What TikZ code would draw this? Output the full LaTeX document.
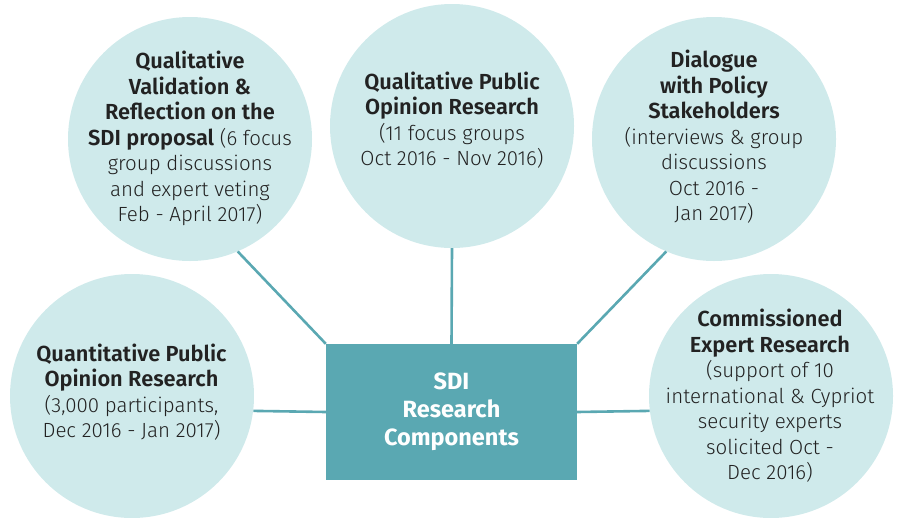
\documentclass[tikz,border=0pt]{standalone}
\usepackage{fontspec}
\setmainfont{Fira Sans}
\newfontfamily\lightfont{Fira Sans Light}
\newfontfamily\headfont{Fira Sans SemiBold}
\newfontfamily\hubfont{Fira Sans Bold}
\definecolor{bubblefill}{HTML}{CFEAEB}
\definecolor{tealbox}{HTML}{5AA8B2}
\definecolor{inktext}{HTML}{222222}
\newcommand{\hd}[1]{{\headfont\fontsize{21.8}{25.5}\selectfont #1}}
\begin{document}
\begin{tikzpicture}[x=1pt, y=-1pt, line join=round, line cap=round,
	bubble/.style={circle, fill=bubblefill, minimum size=244pt, inner sep=0pt},
	bubbletext/.style={align=center, text=inktext, font=\lightfont\fontsize{20.5}{25.5}\selectfont},
	hub/.style={fill=tealbox, minimum width=251pt, minimum height=136pt, inner sep=0pt,
		text=white, align=center, font=\hubfont\fontsize{23.5}{28}\selectfont},
	link/.style={draw=tealbox, line width=2.6pt, line cap=butt}]
	\useasboundingbox (0,0) rectangle (897,517);
	% bubbles
	\node[bubble] (qv) at (190,139) {};
	\node[bubble] (qp) at (452,126) {};
	\node[bubble] (dp) at (714,139) {};
	\node[bubble] (ql) at (132,396) {};
	\node[bubble] (ce) at (771,396) {};
	% centre box
	\node[hub] (sdi) at (451.5,412) {SDI\\Research\\Components};
	% texts
	\node[bubbletext] (qvt) at (190,138.5) {\hd{Qualitative}\\\hd{Validation \&}\\\hd{Reflection on the}\\
		\hd{SDI proposal} (6 focus\\group discussions\\and expert veting\\Feb - April 2017)};
	\node[bubbletext] (qpt) at (452,120) {\hd{Qualitative Public}\\\hd{Opinion Research}\\
		(11 focus groups\\Oct 2016 - Nov 2016)};
	\node[bubbletext] (dpt) at (714,137) {\hd{Dialogue}\\\hd{with Policy}\\\hd{Stakeholders}\\
		(interviews \& group\\discussions\\Oct 2016 -\\Jan 2017)};
	\node[bubbletext] (qlt) at (131.5,392) {\hd{Quantitative Public}\\\hd{Opinion Research}\\
		(3,000 participants,\\Dec 2016 - Jan 2017)};
	\node[bubbletext] (cet) at (770,396) {\hd{Commissioned}\\\hd{Expert Research}\\
		(support of 10\\international \& Cypriot\\security experts\\solicited Oct -\\Dec 2016)};
	% connectors
	\draw[link] (sdi.north west) -- (qv.-67);
	\draw[link] (sdi.north) -- (qp.south);
	\draw[link] (sdi.north east) -- (dp.-113);
	\draw[link] (sdi.west) -- (ql.-7);
	\draw[link] (sdi.east) -- (ce.187);
\end{tikzpicture}
\end{document}
